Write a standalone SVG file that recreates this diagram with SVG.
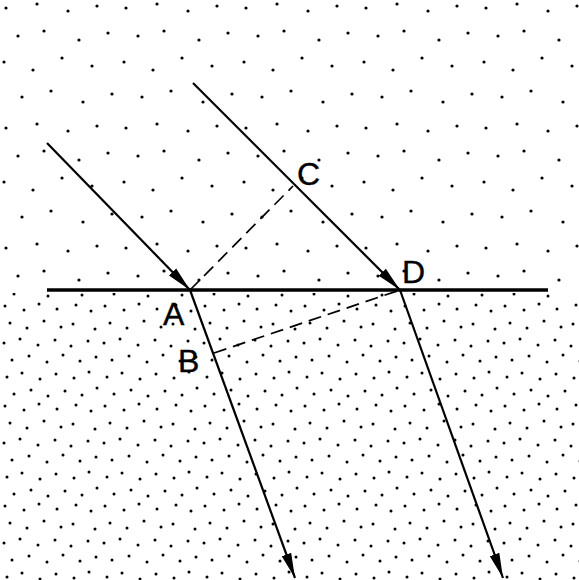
<svg xmlns="http://www.w3.org/2000/svg" width="579" height="580" viewBox="0 0 579 580">
<style>
.ray{stroke:#000;stroke-width:2.2;fill:none}
.iface{stroke:#000;stroke-width:3.5;fill:none}
.dash{stroke:#000;stroke-width:1.7;stroke-dasharray:13 7;fill:none}
.lbl{font-family:"Liberation Sans",Arial,sans-serif;font-size:32px;fill:#000;stroke:#000;stroke-width:0.4}
</style>
<defs>
<marker id="arr" markerUnits="userSpaceOnUse" markerWidth="26" markerHeight="12" refX="25" refY="5" orient="auto" viewBox="0 0 26 10">
<path d="M0,0 L25,5 L0,10 Z" fill="#000"/>
</marker>
<pattern id="sparse" patternUnits="userSpaceOnUse" width="120" height="120">
<g fill="#000">
<circle cx="6" cy="8" r="1.6"/><circle cx="37" cy="4" r="1.6"/><circle cx="68" cy="11" r="1.6"/><circle cx="97" cy="6" r="1.6"/>
<circle cx="18" cy="36" r="1.6"/><circle cx="44" cy="31" r="1.6"/><circle cx="79" cy="40" r="1.6"/><circle cx="108" cy="33" r="1.6"/>
<circle cx="4" cy="62" r="1.6"/><circle cx="33" cy="70" r="1.6"/><circle cx="62" cy="58" r="1.6"/><circle cx="92" cy="66" r="1.6"/>
<circle cx="22" cy="97" r="1.6"/><circle cx="51" cy="91" r="1.6"/><circle cx="83" cy="102" r="1.6"/><circle cx="112" cy="94" r="1.6"/>
</g>
</pattern>
<pattern id="dense" patternUnits="userSpaceOnUse" width="100" height="100">
<g fill="#000">
<circle cx="5" cy="6" r="1.5"/><circle cx="24" cy="10" r="1.5"/><circle cx="39" cy="4" r="1.5"/><circle cx="57" cy="9" r="1.5"/><circle cx="76" cy="5" r="1.5"/><circle cx="91" cy="11" r="1.5"/>
<circle cx="10" cy="23" r="1.5"/><circle cx="27" cy="28" r="1.5"/><circle cx="44" cy="21" r="1.5"/><circle cx="61" cy="27" r="1.5"/><circle cx="73" cy="24" r="1.5"/><circle cx="95" cy="29" r="1.5"/>
<circle cx="4" cy="43" r="1.5"/><circle cx="20" cy="39" r="1.5"/><circle cx="38" cy="45" r="1.5"/><circle cx="55" cy="40" r="1.5"/><circle cx="71" cy="46" r="1.5"/><circle cx="88" cy="41" r="1.5"/>
<circle cx="12" cy="60" r="1.5"/><circle cx="29" cy="56" r="1.5"/><circle cx="47" cy="62" r="1.5"/><circle cx="63" cy="55" r="1.5"/><circle cx="80" cy="61" r="1.5"/><circle cx="96" cy="57" r="1.5"/>
<circle cx="7" cy="77" r="1.5"/><circle cx="22" cy="73" r="1.5"/><circle cx="40" cy="79" r="1.5"/><circle cx="56" cy="74" r="1.5"/><circle cx="74" cy="78" r="1.5"/><circle cx="89" cy="72" r="1.5"/>
<circle cx="14" cy="94" r="1.5"/><circle cx="31" cy="90" r="1.5"/><circle cx="48" cy="96" r="1.5"/><circle cx="65" cy="91" r="1.5"/><circle cx="82" cy="95" r="1.5"/><circle cx="97" cy="88" r="1.5"/>
</g>
</pattern>
</defs>
<rect width="579" height="580" fill="#fff"/>
<rect id="upper-medium" x="0" y="0" width="579" height="287" fill="url(#sparse)"/>
<rect id="lower-medium" x="0" y="293" width="579" height="287" fill="url(#dense)"/>
<g id="connectors">
<line class="iface" x1="47" y1="290" x2="548" y2="290"/>
<line class="ray" x1="47" y1="143" x2="190" y2="290" marker-end="url(#arr)"/>
<line class="ray" x1="193" y1="83" x2="400" y2="290" marker-end="url(#arr)"/>
<line class="ray" x1="190" y1="290" x2="295" y2="578" marker-end="url(#arr)"/>
<line class="ray" x1="400" y1="290" x2="503" y2="578" marker-end="url(#arr)"/>
<line class="dash" x1="190" y1="290" x2="293" y2="186"/>
<line class="dash" x1="214" y1="353" x2="400" y2="290"/>
</g>
<g id="A"><text class="lbl" x="163" y="325">A</text></g>
<g id="B"><text class="lbl" x="178" y="372">B</text></g>
<g id="C"><text class="lbl" x="297" y="185">C</text></g>
<g id="D"><text class="lbl" x="402" y="283">D</text></g>
</svg>
